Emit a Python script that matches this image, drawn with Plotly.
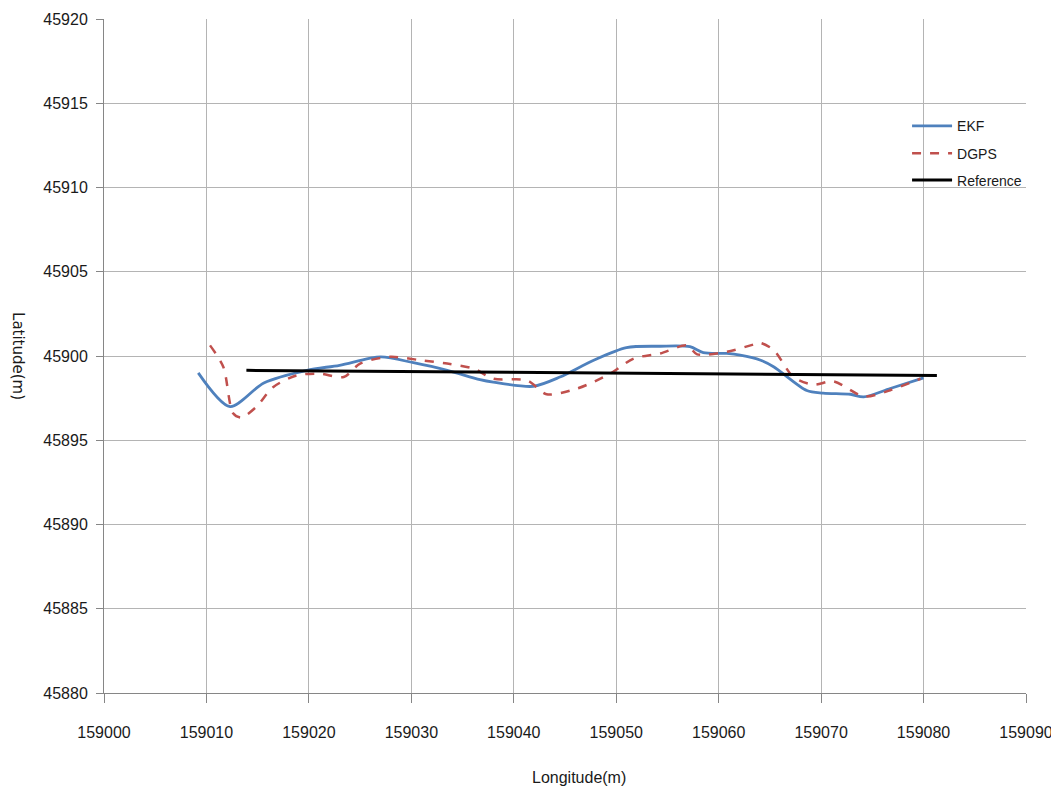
import plotly.graph_objects as go

ekf_x = [159009.2, 159012.3, 159015.6, 159019.8, 159023.0, 159027.0, 159030.2, 159033.5,
         159036.7, 159038.0, 159041.9, 159044.5, 159047.8, 159051.0, 159054.3, 159057.2,
         159058.5, 159060.8, 159062.1, 159064.1, 159065.4, 159068.6, 159070.2, 159072.85,
         159074.15, 159076.75, 159080.0]
ekf_y = [45899.0, 45897.0, 45898.4, 45899.15, 45899.45, 45899.95, 45899.6, 45899.15,
         45898.6, 45898.45, 45898.2, 45898.75, 45899.75, 45900.5, 45900.58, 45900.55,
         45900.2, 45900.15, 45900.05, 45899.75, 45899.35, 45897.95, 45897.8, 45897.73,
         45897.57, 45898.07, 45898.7]

dgps_x = [159010.35, 159011.65, 159012.6, 159013.4, 159014.9, 159016.5, 159018.8, 159021.1,
          159023.4, 159025.0, 159027.9, 159030.9, 159033.5, 159036.1, 159038.0, 159041.3,
          159043.2, 159046.2, 159049.4, 159051.7, 159054.3, 159056.9, 159057.9, 159060.8,
          159063.7, 159064.1, 159065.4, 159067.3, 159069.3, 159071.2, 159074.2, 159076.75,
          159079.7]
dgps_y = [45900.63, 45899.35, 45896.6, 45896.35, 45897.0, 45898.15, 45898.85, 45898.95,
          45898.75, 45899.55, 45899.95, 45899.75, 45899.55, 45899.25, 45898.65, 45898.55,
          45897.73, 45898.07, 45898.95, 45899.85, 45900.15, 45900.63, 45900.1, 45900.25,
          45900.73, 45900.77, 45900.34, 45898.75, 45898.3, 45898.5, 45897.6, 45897.97,
          45898.65]

ref_x = [159013.9, 159081.3]
ref_y = [45899.15, 45898.84]

x_ticks = list(range(159000, 159091, 10))
y_ticks = list(range(45880, 45921, 5))

font_family = "Liberation Sans, Arial, sans-serif"
txt_color = "#1a1a1a"

fig = go.Figure()
fig.add_trace(go.Scatter(x=ekf_x, y=ekf_y, mode="lines", name="EKF", legend="legend",
                         line=dict(color="#4F81BD", width=2.8, shape="spline", smoothing=0.8)))
fig.add_trace(go.Scatter(x=dgps_x, y=dgps_y, mode="lines", name="DGPS", legend="legend2",
                         line=dict(color="#C0504D", width=2.5, dash="dash", shape="spline", smoothing=0.8)))
fig.add_trace(go.Scatter(x=ref_x, y=ref_y, mode="lines", name="Reference", legend="legend3",
                         line=dict(color="black", width=3)))

axis_common = dict(showgrid=True, gridcolor="#b4b4b4", gridwidth=1,
                   showline=True, linecolor="#868686", linewidth=1,
                   ticks="outside", tickcolor="#868686", automargin=False,
                   zeroline=False, tickfont=dict(family=font_family, size=16, color=txt_color))

fig.update_xaxes(range=[159000, 159090], tickvals=x_ticks, ticktext=[str(v) for v in x_ticks],
                 ticklen=9, ticklabelstandoff=16, **axis_common)
fig.update_yaxes(range=[45880, 45920], tickvals=y_ticks, ticktext=[str(v) for v in y_ticks],
                 ticklen=7, ticklabelstandoff=5, **axis_common)

fig.add_annotation(text="Latitude(m)", xref="paper", yref="paper", x=-0.0933, y=0.5,
                   xanchor="center", yanchor="middle",
                   showarrow=False, textangle=90,
                   font=dict(family="DejaVu Sans, sans-serif", size=15, color=txt_color))
fig.add_annotation(text="Longitude(m)", xref="paper", yref="paper", x=0.515, y=-0.125,
                   xanchor="center", yanchor="middle", showarrow=False,
                   font=dict(family=font_family, size=16, color=txt_color))

leg_common = dict(x=0.871, xanchor="left", yanchor="middle", bgcolor="rgba(0,0,0,0)",
                  font=dict(family=font_family, size=14, color=txt_color), itemwidth=40)

fig.update_layout(
    width=1051, height=789,
    margin=dict(l=96, r=33, t=11, b=104),
    plot_bgcolor="white", paper_bgcolor="white",
    legend=dict(y=0.8408, **leg_common),
    legend2=dict(y=0.8004, **leg_common),
    legend3=dict(y=0.7604, **leg_common),
    showlegend=True,
)

fig.write_html("out.html")
